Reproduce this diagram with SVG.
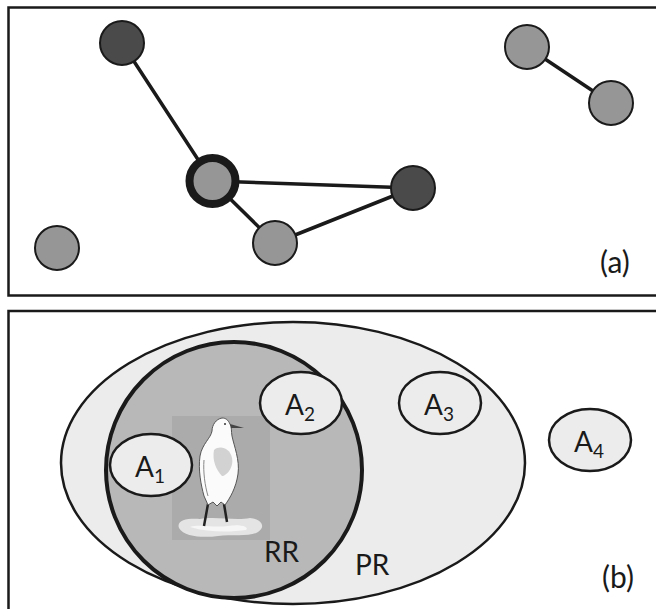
<svg xmlns="http://www.w3.org/2000/svg" width="656" height="609" viewBox="0 0 656 609">
  <defs>
    <style>
      .frame { fill: #ffffff; stroke: #1a1a1a; stroke-width: 2.5; }
      .edge { stroke: #1a1a1a; stroke-width: 3.5; stroke-linecap: round; }
      .node { stroke: #1a1a1a; stroke-width: 2; }
      .light { fill: #969696; }
      .dark { fill: #4a4a4a; }
      .area { fill: #ececec; stroke: #1a1a1a; stroke-width: 2.5; }
      .lbl { font-family: Lato, "Open Sans", "Liberation Sans", sans-serif; fill: #1a1a1a; }
    </style>
  </defs>

  <!-- panel (a): network -->
  <rect class="frame" x="8.5" y="7.5" width="660" height="288"/>
  <g id="edges">
    <line class="edge" x1="122" y1="43" x2="212" y2="181"/>
    <line class="edge" x1="212" y1="181" x2="413" y2="188"/>
    <line class="edge" x1="212" y1="181" x2="275" y2="243"/>
    <line class="edge" x1="275" y1="243" x2="413" y2="188"/>
    <line class="edge" x1="527" y1="47" x2="611" y2="103"/>
  </g>
  <g id="n1"><circle class="node dark" cx="122" cy="43" r="22"/></g>
  <g id="n2"><circle class="node light" cx="527" cy="47" r="22"/></g>
  <g id="n3"><circle class="node light" cx="611" cy="103" r="22"/></g>
  <g id="n4"><circle cx="212.5" cy="181" r="23" fill="#969696" stroke="#1a1a1a" stroke-width="8"/></g>
  <g id="n5"><circle class="node dark" cx="413" cy="188" r="22"/></g>
  <g id="n6"><circle class="node light" cx="275" cy="243" r="22"/></g>
  <g id="n7"><circle class="node light" cx="57" cy="248" r="22"/></g>
  <text class="lbl" x="600" y="273" font-size="30">(a)</text>

  <!-- panel (b): ranges -->
  <rect class="frame" x="8.5" y="311" width="660" height="310"/>
  <g id="PR"><ellipse class="area" cx="293" cy="463" rx="232" ry="141"/></g>
  <g id="RR"><circle cx="234" cy="470" r="128" fill="#b8b8b8" stroke="#1a1a1a" stroke-width="4"/></g>

  <!-- egret -->
  <g id="bird">
    <rect x="172" y="416" width="98" height="124" fill="#ababab"/>
    <path d="M179 528 C176 520 188 518 200 519 C215 516 235 521 250 518 C262 519 266 527 258 532 C250 537 232 534 218 536 C204 538 184 537 179 528 Z" fill="#e4e4e4"/>
    <path d="M190 527 C200 524 214 528 228 526 C240 524 250 527 246 530 C232 532 210 533 190 527 Z" fill="#f6f6f6"/>
    <path d="M208 504 L204 526 M224 504 L227 522" stroke="#222" stroke-width="2.5" fill="none"/>
    <path d="M222 418 C216 419 212 425 212 431 C211 438 202 444 200 456 C198 470 201 485 204 496 L208 505 L213 502 L217 506 L221 502 L225 505 C230 498 236 488 238 474 C240 460 234 446 232 436 C231 431 232 427 230 424 C228 420 226 418 222 418 Z" fill="#fbfbfb" stroke="#555" stroke-width="1"/>
    <path d="M230 424 L244 428 L231 428 Z" fill="#444"/>
    <circle cx="225" cy="424" r="1" fill="#333"/>
    <path d="M214 450 C220 445 230 448 232 458 C234 468 226 476 222 476 C216 470 212 460 214 450 Z" fill="#d2d2d2"/>
    <path d="M204 460 C203 472 205 486 208 496" stroke="#888" stroke-width="1" fill="none"/>
  </g>

  <g id="A1">
    <ellipse class="area" cx="151" cy="465" rx="41" ry="31"/>
    <text class="lbl" x="135" y="477" font-size="28">A<tspan font-size="19" dy="6">1</tspan></text>
  </g>
  <g id="A2">
    <ellipse class="area" cx="301" cy="403" rx="41" ry="31"/>
    <text class="lbl" x="285" y="415" font-size="28">A<tspan font-size="19" dy="6">2</tspan></text>
  </g>
  <g id="A3">
    <ellipse class="area" cx="440" cy="403" rx="41" ry="31"/>
    <text class="lbl" x="424" y="415" font-size="28">A<tspan font-size="19" dy="6">3</tspan></text>
  </g>
  <g id="A4">
    <ellipse class="area" cx="590" cy="440" rx="41" ry="31"/>
    <text class="lbl" x="574" y="452" font-size="28">A<tspan font-size="19" dy="6">4</tspan></text>
  </g>

  <text class="lbl" x="264" y="562" font-size="28">RR</text>
  <text class="lbl" x="355" y="575" font-size="28">PR</text>
  <text class="lbl" x="602" y="588" font-size="30">(b)</text>
</svg>
